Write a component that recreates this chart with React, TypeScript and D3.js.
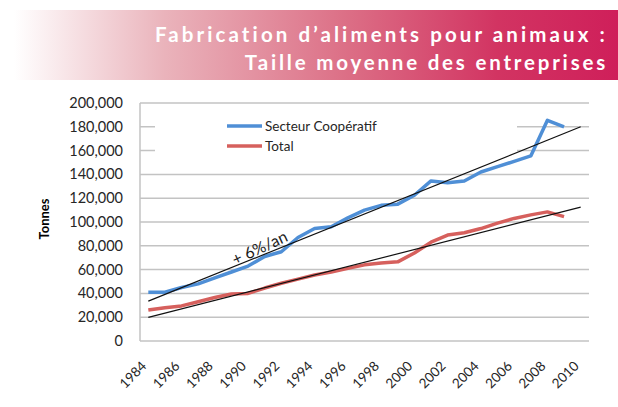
import React, { useLayoutEffect, useRef } from 'react';
import * as d3 from 'd3';

const categories = d3.range(1984, 2011).map(String);
const dataYears = d3.range(1984, 2010).map(String);
const tickYears = d3.range(1984, 2011, 2).map(String);

const cooperatif = [
  41000, 41000, 45000, 48000, 53000, 58000, 63000, 71000, 75000, 87000, 94500,
  96000, 103500, 110000, 114000, 115000, 122500, 134500, 133000, 134500,
  142000, 146500, 151000, 155500, 185500, 180000,
];
const total = [
  26000, 28000, 29500, 33000, 36500, 39500, 40000, 44500, 48500, 52000, 55500,
  58000, 61000, 64000, 65500, 66500, 74000, 83000, 89000, 91000, 94500, 99000,
  103000, 106000, 108500, 104500,
];
// trend lines, start (1984) and end (2010)
const trendCooperatif = [33500, 180000];
const trendTotal = [19800, 112500];
const yTicks = d3.range(0, 200001, 20000);

const titleLines = ['Fabrication d’aliments pour animaux :', 'Taille moyenne des entreprises'];
const seriesNames = ['Secteur Coopératif', 'Total'];

const blue = '#4f8fd6';
const red = '#d6605d';
const grid = '#c3c3c3';

const width = 618;
const height = 407;
const plot = { left: 140, right: 589, top: 103, bottom: 341 };

const drawChart = (container: HTMLDivElement) => {
  d3.select(container).selectAll('*').remove();
  const svg = d3
    .select(container)
    .append('svg')
    .attr('width', width)
    .attr('height', height)
    .style('position', 'absolute')
    .style('left', 0)
    .style('top', 0)
    .style('background', '#fff');

  // title banner
  const defs = svg.append('defs');
  const grad = defs
    .append('linearGradient')
    .attr('id', 'banner')
    .attr('x1', '0%')
    .attr('x2', '100%');
  [
    [0, '#ffffff'],
    [0.25, '#eab3bb'],
    [0.55, '#dc6f86'],
    [0.8, '#d23462'],
    [1, '#cf1f5a'],
  ].forEach(([o, c]) =>
    grad.append('stop').attr('offset', o as number).attr('stop-color', c as string),
  );
  svg
    .append('rect')
    .attr('x', 14)
    .attr('y', 10)
    .attr('width', width - 14)
    .attr('height', 70)
    .attr('fill', 'url(#banner)');
  svg
    .append('g')
    .selectAll('text')
    .data(titleLines)
    .enter()
    .append('text')
    .attr('x', 608)
    .attr('y', (_d, i) => 42 + i * 28)
    .attr('text-anchor', 'end')
    .attr('fill', '#fff')
    .attr('font-family', 'Lato, sans-serif')
    .attr('font-weight', 700)
    .attr('font-size', 20.5)
    .attr('letter-spacing', (_d, i) => (i === 0 ? 3.1 : 2.8))
    .text((d) => d);

  const xScale = d3
    .scaleBand<string>()
    .domain(categories)
    .range([plot.left, plot.right]);
  const cx = (year: string) => (xScale(year) || 0) + xScale.bandwidth() / 2;
  const yScale = d3
    .scaleLinear()
    .domain([0, 200000])
    .range([plot.bottom, plot.top]);

  // gridlines
  svg
    .append('g')
    .selectAll('line')
    .data(yTicks.filter((t) => t > 0))
    .enter()
    .append('line')
    .attr('x1', plot.left)
    .attr('x2', plot.right)
    .attr('y1', (d) => yScale(d))
    .attr('y2', (d) => yScale(d))
    .attr('stroke', grid)
    .attr('stroke-width', 1.5);

  // axes
  svg
    .append('line')
    .attr('x1', plot.left)
    .attr('x2', plot.left)
    .attr('y1', plot.top)
    .attr('y2', plot.bottom)
    .attr('stroke', grid)
    .attr('stroke-width', 1.5);
  svg
    .append('line')
    .attr('x1', plot.left)
    .attr('x2', plot.right)
    .attr('y1', plot.bottom)
    .attr('y2', plot.bottom)
    .attr('stroke', grid)
    .attr('stroke-width', 1.5);

  const fmt = d3.format(',');
  svg
    .append('g')
    .selectAll('text')
    .data(yTicks)
    .enter()
    .append('text')
    .attr('x', 123)
    .attr('y', (d) => yScale(d))
    .attr('dy', '0.35em')
    .attr('text-anchor', 'end')
    .attr('font-family', 'Lato, sans-serif')
    .attr('font-size', 14.5)
    .attr('fill', '#262626')
    .text((d) => fmt(d));

  svg
    .append('g')
    .selectAll('text')
    .data(tickYears)
    .enter()
    .append('text')
    .attr('text-anchor', 'end')
    .attr('transform', (d) => `translate(${cx(d) - 1},${367}) rotate(-45)`)
    .attr('font-family', 'Lato, sans-serif')
    .attr('font-size', 13.5)
    .attr('fill', '#262626')
    .text((d) => d);

  svg
    .append('text')
    .attr('transform', 'translate(49,219) rotate(-90)')
    .attr('text-anchor', 'middle')
    .attr('font-family', 'Lato, sans-serif')
    .attr('font-weight', 700)
    .attr('font-size', 13)
    .attr('fill', '#000')
    .text('Tonnes');

  // legend box hides gridlines behind it
  svg
    .append('rect')
    .attr('x', 155)
    .attr('y', 110)
    .attr('width', 362)
    .attr('height', 56)
    .attr('fill', '#fff');

  const line = d3
    .line<number>()
    .x((_d, i) => cx(dataYears[i]))
    .y((d) => yScale(d));

  const series = [
    { name: seriesNames[0], values: cooperatif, color: blue },
    { name: seriesNames[1], values: total, color: red },
  ];
  series.forEach((s) => {
    svg
      .append('path')
      .attr('d', line(s.values))
      .attr('fill', 'none')
      .attr('stroke', s.color)
      .attr('stroke-width', 3.5)
      .attr('stroke-linejoin', 'round');
  });

  [trendCooperatif, trendTotal].forEach((t) => {
    svg
      .append('line')
      .attr('x1', cx(categories[0]))
      .attr('x2', cx(categories[categories.length - 1]))
      .attr('y1', yScale(t[0]))
      .attr('y2', yScale(t[1]))
      .attr('stroke', '#111')
      .attr('stroke-width', 1.2);
  });

  svg
    .append('text')
    .attr('transform', 'translate(262,253) rotate(-25)')
    .attr('text-anchor', 'middle')
    .attr('font-family', 'Lato, sans-serif')
    .attr('font-size', 16)
    .attr('fill', '#1a1a1a')
    .text('+ 6%/an');

  // legend
  const legend = svg.append('g');
  series.forEach((s, i) => {
    const y = 126 + i * 20;
    legend
      .append('line')
      .attr('x1', 227)
      .attr('x2', 262)
      .attr('y1', y)
      .attr('y2', y)
      .attr('stroke', s.color)
      .attr('stroke-width', 3.5);
    legend
      .append('text')
      .attr('x', 265)
      .attr('y', y)
      .attr('dy', '0.35em')
      .attr('font-family', 'Lato, sans-serif')
      .attr('font-size', 13.5)
      .attr('fill', '#262626')
      .text(s.name);
  });
};

export default function App() {
  const rootEl = useRef<HTMLDivElement>(null);

  useLayoutEffect(() => {
    if (rootEl.current) drawChart(rootEl.current);
  }, []);

  return <div ref={rootEl} />;
}
